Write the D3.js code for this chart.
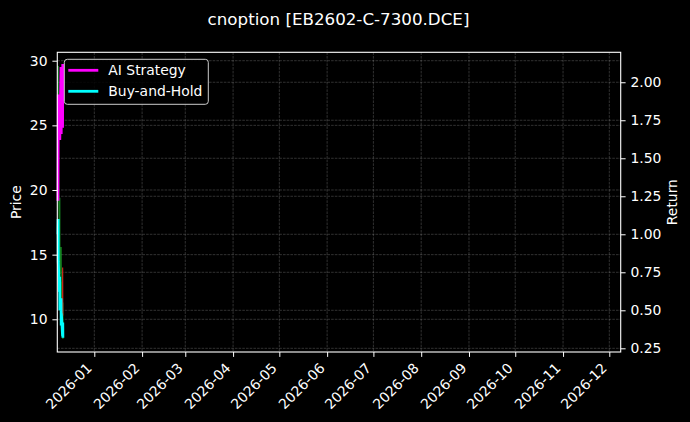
<!DOCTYPE html>
<html>
<head>
<meta charset="utf-8">
<script src="https://cdn.jsdelivr.net/npm/d3@7"></script>
<style>
  html, body { margin: 0; padding: 0; background: #000; }
  svg { display: block; font-family: "DejaVu Sans", sans-serif; }
</style>
</head>
<body>
<div id="chart"></div>
<script>
// data
var times = ["2025-12-08T10:00", "2025-12-08T13:00", "2025-12-08T15:00",
  "2025-12-09T10:00", "2025-12-09T13:00", "2025-12-09T15:00",
  "2025-12-10T10:00", "2025-12-10T13:00", "2025-12-10T15:00",
  "2025-12-11T10:00", "2025-12-11T13:00", "2025-12-11T15:00"];
var price = [26.9, 29.6, 22.0, 16.7, 19.4, 13.5, 15.6, 10.8, 12.9, 8.9, 11.3, 8.5];
var aiStrategy = [1.22, 1.55, 1.92, 1.70, 1.88, 1.62, 2.10, 1.66, 2.05, 1.70, 2.12, 1.98];
var buyHold = [1.00, 1.10, 0.82, 0.62, 0.72, 0.50, 0.58, 0.40, 0.48, 0.33, 0.42, 0.32];
var redTimes = ["2025-12-11T08:00", "2025-12-11T11:00", "2025-12-11T14:00"];
var redPrice = [10.2, 14.0, 10.3];

var priceTicks = [10, 15, 20, 25, 30];
var returnTicks = [0.25, 0.5, 0.75, 1.0, 1.25, 1.5, 1.75, 2.0];
var monthTicks = ["2026-01-01", "2026-02-01", "2026-03-01", "2026-04-01", "2026-05-01", "2026-06-01",
  "2026-07-01", "2026-08-01", "2026-09-01", "2026-10-01", "2026-11-01", "2026-12-01"];

var W = 690, H = 422;
var margin = { top: 52.3, right: 69.3, bottom: 70, left: 57.3 };
var iw = W - margin.left - margin.right;
var ih = H - margin.top - margin.bottom;
var parse = d3.timeParse("%Y-%m-%dT%H:%M");
var parseDay = d3.timeParse("%Y-%m-%d");

var x = d3.scaleTime()
  .domain([parseDay("2025-12-08"), parse("2026-12-08T09:20")])
  .range([0, iw]);
var yL = d3.scaleLinear().domain([7.47, 30.65]).range([ih, 0]);
var yR = d3.scaleLinear().domain([0.2257, 2.197]).range([ih, 0]);

var svg = d3.select("#chart").append("svg")
  .attr("width", W)
  .attr("height", H)
  .style("background", "#000");

svg.append("text")
  .attr("x", 338.5)
  .attr("y", 25)
  .attr("text-anchor", "middle")
  .attr("fill", "#fff")
  .attr("font-size", "16.7px")
  .text("cnoption [EB2602-C-7300.DCE]");

var g = svg.append("g")
  .attr("transform", "translate(" + margin.left + "," + margin.top + ")");

// grid
var grid = g.append("g")
  .attr("stroke", "#fff")
  .attr("stroke-opacity", 0.28)
  .attr("stroke-width", 0.7)
  .attr("stroke-dasharray", "2.6,1.1");

grid.selectAll(".gx").data(monthTicks).enter().append("line")
  .attr("x1", function (d) { return x(parseDay(d)); })
  .attr("x2", function (d) { return x(parseDay(d)); })
  .attr("y1", 0).attr("y2", ih);
grid.selectAll(".gl").data(priceTicks).enter().append("line")
  .attr("x1", 0).attr("x2", iw)
  .attr("y1", function (d) { return yL(d); })
  .attr("y2", function (d) { return yL(d); });
grid.selectAll(".gr").data(returnTicks).enter().append("line")
  .attr("x1", 0).attr("x2", iw)
  .attr("y1", function (d) { return yR(d); })
  .attr("y2", function (d) { return yR(d); });

// price lines (left axis)
var lineL = d3.line()
  .x(function (d) { return x(d[0]); })
  .y(function (d) { return yL(d[1]); });

g.append("path")
  .datum(times.map(function (t, i) { return [parse(t), price[i]]; }))
  .attr("fill", "none")
  .attr("stroke", "#19a52a")
  .attr("stroke-opacity", 0.8)
  .attr("stroke-width", 1.4)
  .attr("d", lineL);

g.append("path")
  .datum(redTimes.map(function (t, i) { return [parse(t), redPrice[i]]; }))
  .attr("fill", "none")
  .attr("stroke", "#c42a1c")
  .attr("stroke-width", 1.2)
  .attr("d", lineL);

// return lines (right axis)
var lineR = d3.line()
  .x(function (d) { return x(d[0]); })
  .y(function (d) { return yR(d[1]); });

g.append("path")
  .datum(times.map(function (t, i) { return [parse(t), aiStrategy[i]]; }))
  .attr("fill", "none")
  .attr("stroke", "#ff00ff")
  .attr("stroke-width", 2.8)
  .attr("d", lineR);

g.append("path")
  .datum(times.map(function (t, i) { return [parse(t), buyHold[i]]; }))
  .attr("fill", "none")
  .attr("stroke", "#00ffff")
  .attr("stroke-width", 2.8)
  .attr("d", lineR);

// axes
var xAxis = g.append("g")
  .attr("transform", "translate(0," + ih + ")")
  .call(d3.axisBottom(x)
    .tickValues(monthTicks.map(parseDay))
    .tickFormat(d3.timeFormat("%Y-%m"))
    .tickSizeInner(4.9).tickSizeOuter(0).tickPadding(4.9));
xAxis.selectAll("text")
  .attr("text-anchor", "end")
  .attr("dy", null)
  .attr("y", 0)
  .attr("transform", "translate(-2,17) rotate(-45)");

var leftAxis = g.append("g")
  .call(d3.axisLeft(yL).tickValues(priceTicks)
    .tickSizeInner(4.9).tickSizeOuter(0).tickPadding(4.9));

var rightAxis = g.append("g")
  .attr("transform", "translate(" + iw + ",0)")
  .call(d3.axisRight(yR).tickValues(returnTicks).tickFormat(d3.format(".2f"))
    .tickSizeInner(4.9).tickSizeOuter(0).tickPadding(4.9));

[xAxis, leftAxis, rightAxis].forEach(function (a) {
  a.attr("color", "#fff");
  a.select(".domain").remove();
  a.selectAll("line").attr("stroke", "#fff").attr("stroke-width", 1);
  a.selectAll("text").attr("fill", "#fff").attr("font-size", "13.9px")
    .attr("font-family", "DejaVu Sans, sans-serif");
});

// frame
g.append("rect")
  .attr("width", iw).attr("height", ih)
  .attr("fill", "none")
  .attr("stroke", "#fff")
  .attr("stroke-width", 1.1);

// axis labels
svg.append("text")
  .attr("transform", "translate(21," + (margin.top + ih / 2) + ") rotate(-90)")
  .attr("text-anchor", "middle")
  .attr("fill", "#fff")
  .attr("font-size", "13.9px")
  .text("Price");
svg.append("text")
  .attr("transform", "translate(677," + (margin.top + ih / 2) + ") rotate(-90)")
  .attr("text-anchor", "middle")
  .attr("fill", "#fff")
  .attr("font-size", "13.9px")
  .text("Return");

// legend
var legendItems = [
  { name: "AI Strategy", color: "#ff00ff" },
  { name: "Buy-and-Hold", color: "#00ffff" }
];
var lg = svg.append("g").attr("transform", "translate(64.3,59.3)");
lg.append("rect")
  .attr("width", 144).attr("height", 45)
  .attr("rx", 3)
  .attr("fill", "#000")
  .attr("fill-opacity", 0.85)
  .attr("stroke", "#ccc")
  .attr("stroke-width", 1);
var li = lg.selectAll(".item").data(legendItems).enter().append("g")
  .attr("transform", function (d, i) { return "translate(0," + (11 + i * 21) + ")"; });
li.append("line")
  .attr("x1", 4).attr("x2", 34)
  .attr("stroke", function (d) { return d.color; })
  .attr("stroke-width", 2.8);
li.append("text")
  .attr("x", 44)
  .attr("dy", "0.36em")
  .attr("fill", "#fff")
  .attr("font-size", "13.9px")
  .text(function (d) { return d.name; });
</script>
</body>
</html>
